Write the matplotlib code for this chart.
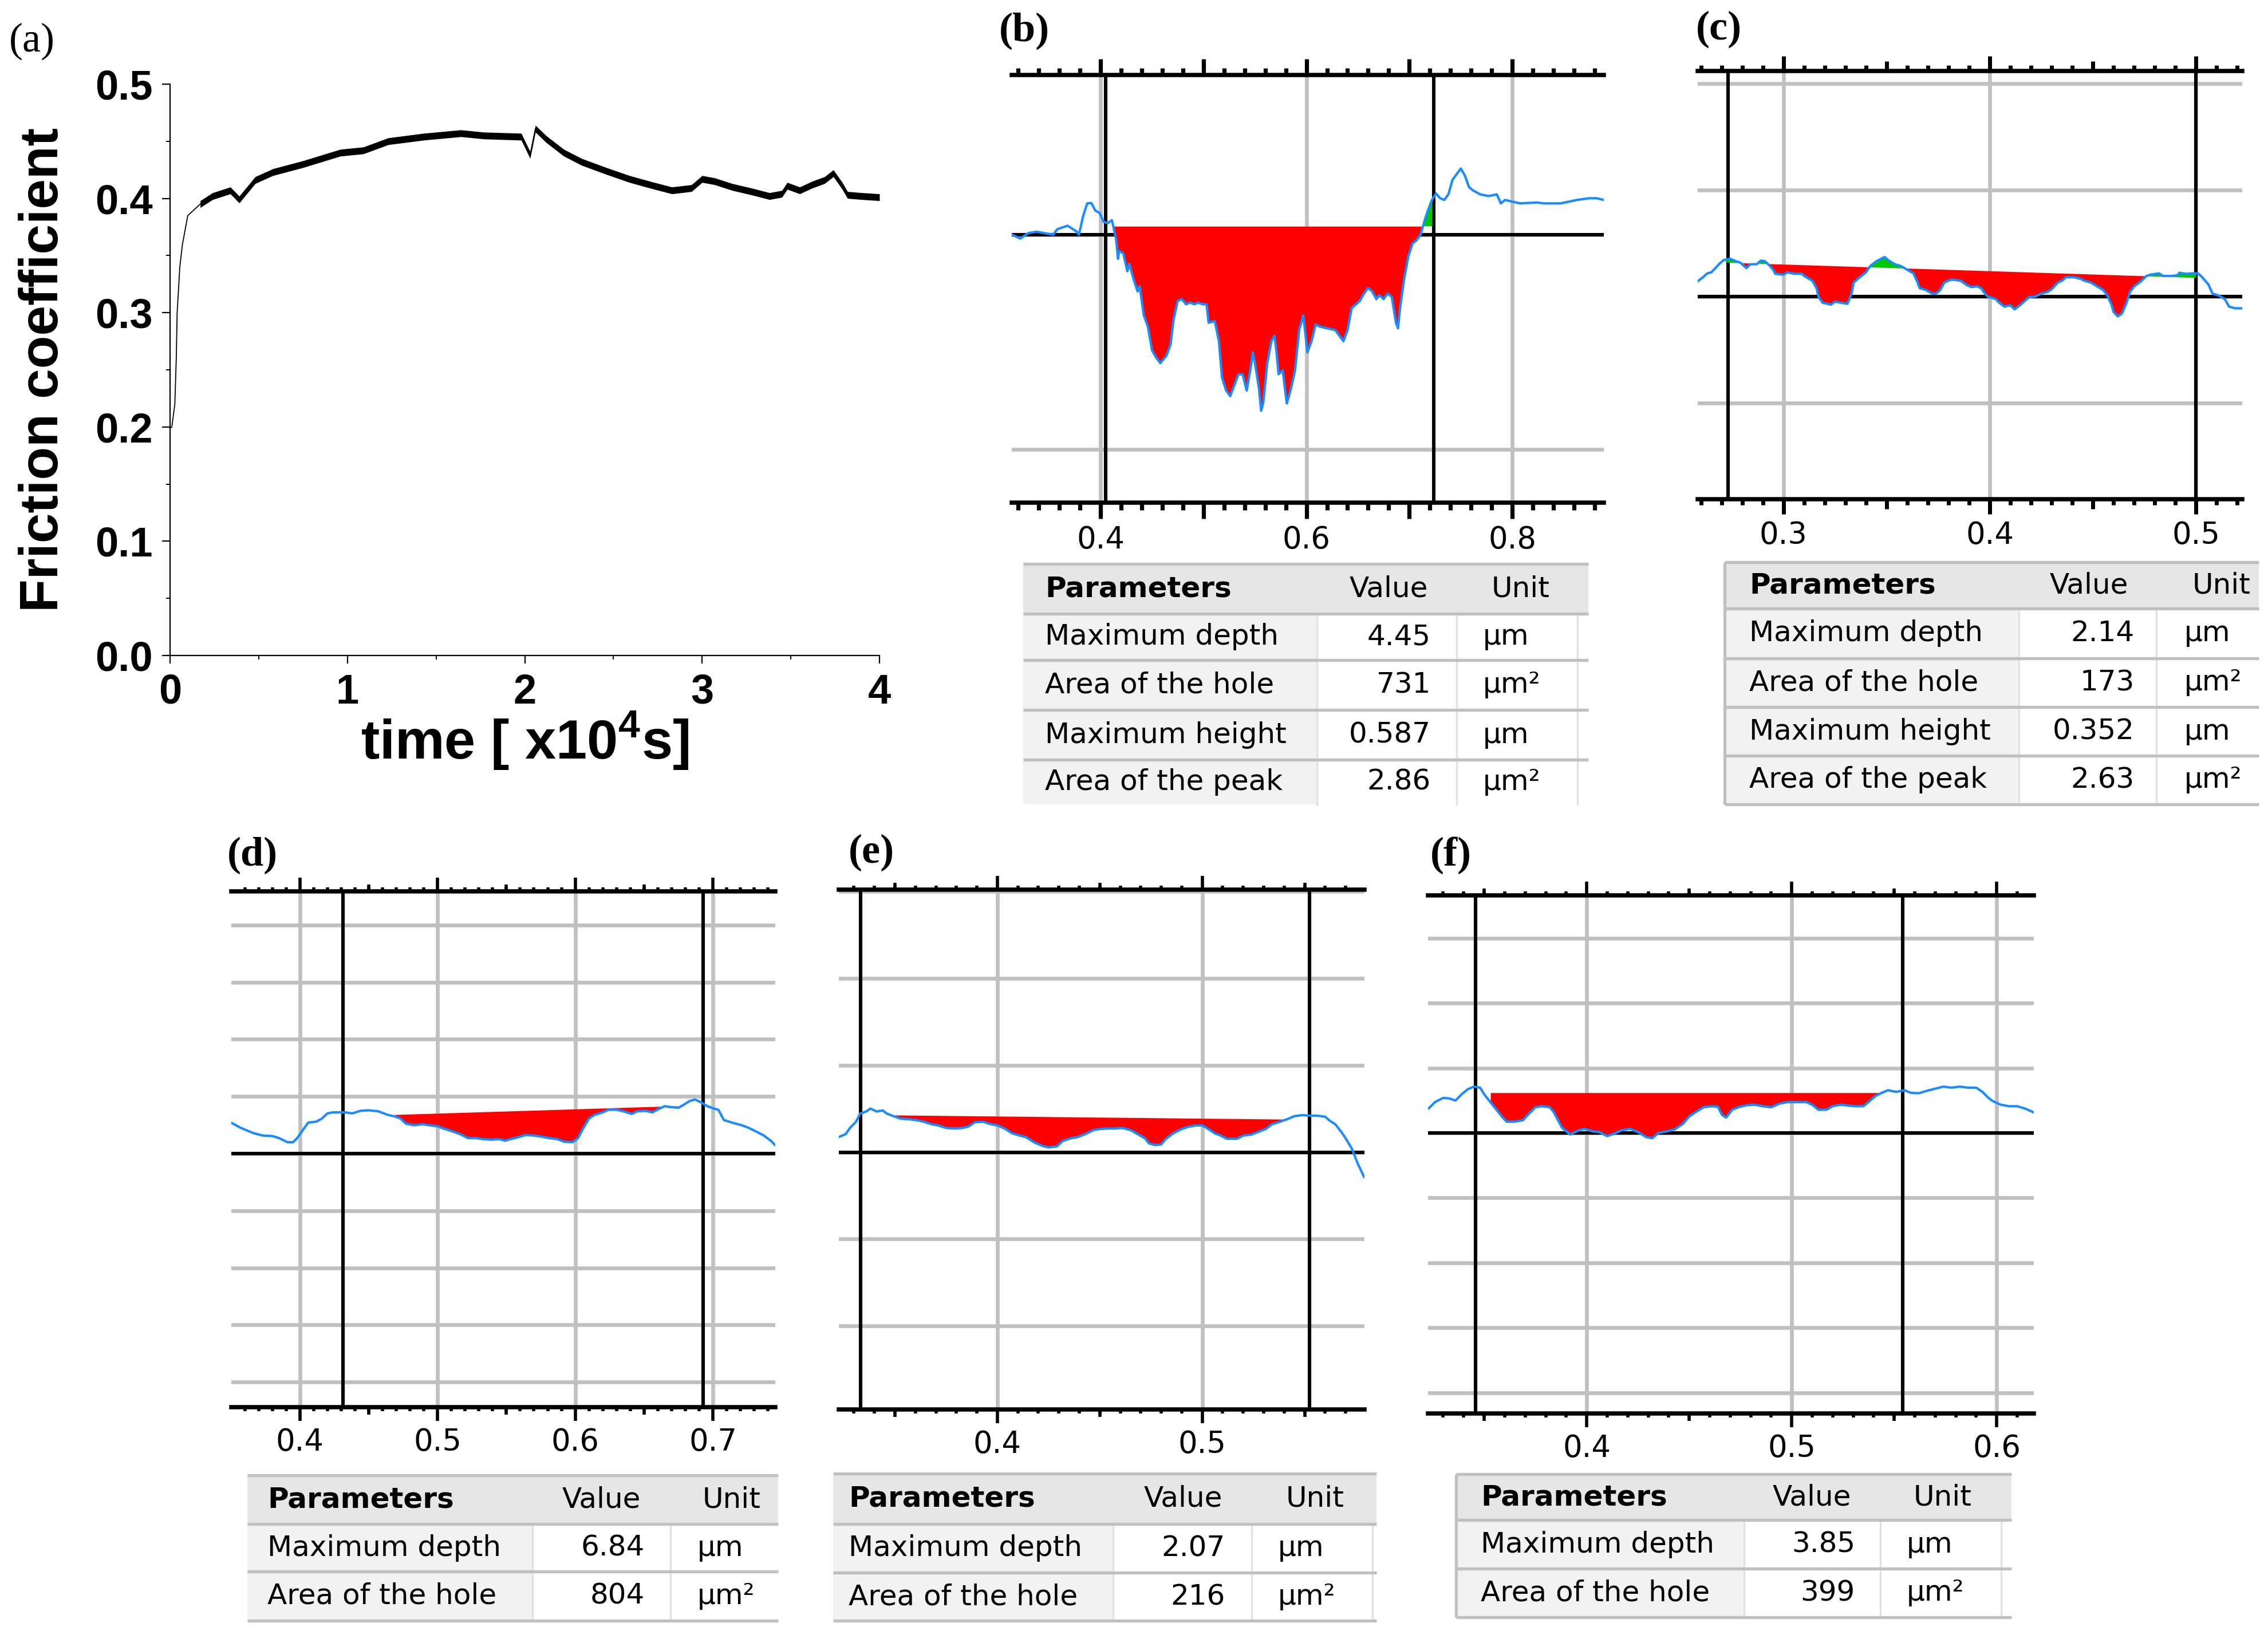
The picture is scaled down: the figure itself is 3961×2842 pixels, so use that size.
import matplotlib
matplotlib.use("Agg")
import matplotlib.pyplot as plt
import numpy as np
from matplotlib.patches import Rectangle
from matplotlib.ticker import FuncFormatter, MultipleLocator, NullFormatter

W, H = 3961, 2842

# ---------------- data ----------------
# (a) friction coefficient, time in 1e4 s
time_1e4s = [0.0, 0.01, 0.027, 0.035, 0.04, 0.055, 0.07, 0.1, 0.17, 0.24, 0.34, 0.39,
             0.48, 0.58, 0.75, 0.96, 1.09, 1.23, 1.43, 1.64, 1.77, 1.98, 2.03, 2.06,
             2.12, 2.22, 2.32, 2.46, 2.59, 2.73, 2.83, 2.94, 3.0, 3.07, 3.17, 3.28,
             3.38, 3.45, 3.48, 3.55, 3.62, 3.69, 3.74, 3.79, 3.82, 3.9, 4.0]
friction = [0.199, 0.20, 0.22, 0.26, 0.30, 0.34, 0.36, 0.385, 0.395, 0.402, 0.407, 0.399,
            0.416, 0.423, 0.430, 0.440, 0.442, 0.450, 0.454, 0.457, 0.455, 0.454, 0.438, 0.461,
            0.452, 0.440, 0.432, 0.424, 0.417, 0.411, 0.407, 0.409, 0.417, 0.415, 0.410, 0.406,
            0.402, 0.404, 0.411, 0.407, 0.412, 0.416, 0.422, 0.411, 0.403, 0.402, 0.401]
friction_noise = 0.003

# profiles: (position, height um)
profile_b = [
    (0.314, 0.00), (0.322, -0.09), (0.330, 0.04), (0.338, 0.07), (0.354, 0.00), (0.358, 0.13),
    (0.368, 0.21), (0.377, 0.07), (0.379, 0.00), (0.383, 0.43), (0.387, 0.73), (0.391, 0.74),
    (0.395, 0.56), (0.399, 0.51), (0.403, 0.30), (0.407, 0.27), (0.411, 0.34), (0.415, -0.09),
    (0.417, -0.56), (0.418, -0.38), (0.422, -0.43), (0.426, -0.85), (0.428, -0.68), (0.432, -1.03),
    (0.436, -1.32), (0.438, -1.20), (0.442, -1.88), (0.446, -2.14), (0.450, -2.69), (0.454, -2.86),
    (0.458, -2.99), (0.464, -2.82), (0.468, -2.56), (0.471, -1.97), (0.475, -1.54), (0.479, -1.50),
    (0.483, -1.62), (0.487, -1.58), (0.491, -1.62), (0.495, -1.58), (0.499, -1.62), (0.503, -1.62),
    (0.505, -2.05), (0.511, -2.01), (0.515, -2.48), (0.518, -3.33), (0.522, -3.63), (0.526, -3.76),
    (0.530, -3.50), (0.534, -3.25), (0.538, -3.25), (0.542, -3.63), (0.546, -3.08), (0.548, -2.74),
    (0.550, -2.99), (0.554, -3.59), (0.556, -4.10), (0.558, -3.93), (0.562, -2.99), (0.566, -2.48),
    (0.569, -2.35), (0.571, -2.74), (0.573, -3.25), (0.577, -3.16), (0.581, -3.93), (0.585, -3.59),
    (0.589, -3.16), (0.593, -2.22), (0.597, -1.88), (0.601, -2.74), (0.605, -2.48), (0.609, -2.09),
    (0.613, -2.14), (0.620, -2.18), (0.628, -2.22), (0.636, -2.48), (0.640, -2.22), (0.644, -1.71),
    (0.652, -1.54), (0.656, -1.37), (0.660, -1.24), (0.664, -1.32), (0.668, -1.50), (0.671, -1.41),
    (0.675, -1.50), (0.679, -1.37), (0.683, -1.45), (0.687, -2.05), (0.689, -2.18), (0.691, -1.71),
    (0.695, -1.03), (0.699, -0.51), (0.703, -0.21), (0.707, -0.13), (0.711, 0.00), (0.715, 0.34),
    (0.718, 0.56), (0.722, 0.81), (0.726, 0.96), (0.730, 0.85), (0.734, 0.81), (0.738, 0.94),
    (0.742, 1.28), (0.746, 1.41), (0.750, 1.54), (0.754, 1.38), (0.758, 1.11), (0.762, 1.03),
    (0.769, 0.94), (0.777, 0.90), (0.785, 0.94), (0.789, 0.73), (0.793, 0.81), (0.800, 0.77),
    (0.808, 0.73), (0.824, 0.75), (0.831, 0.73), (0.847, 0.73), (0.863, 0.81), (0.875, 0.85),
    (0.882, 0.85), (0.889, 0.81)]
profile_c = [
    (0.258, 0.69), (0.261, 0.91), (0.263, 1.09), (0.265, 1.14), (0.267, 1.34), (0.269, 1.55),
    (0.271, 1.72), (0.274, 1.78), (0.277, 1.66), (0.279, 1.60), (0.282, 1.34), (0.284, 1.52),
    (0.287, 1.52), (0.289, 1.69), (0.291, 1.66), (0.293, 1.48), (0.295, 1.26), (0.296, 1.07),
    (0.300, 1.03), (0.302, 1.14), (0.305, 1.07), (0.309, 1.07), (0.310, 0.97), (0.314, 0.74),
    (0.316, 0.40), (0.317, -0.03), (0.319, -0.29), (0.323, -0.38), (0.325, -0.24), (0.328, -0.29),
    (0.331, -0.34), (0.333, 0.14), (0.334, 0.66), (0.337, 0.91), (0.340, 1.14), (0.342, 1.43),
    (0.345, 1.66), (0.349, 1.86), (0.351, 1.69), (0.354, 1.52), (0.357, 1.43), (0.360, 1.26),
    (0.363, 1.09), (0.365, 0.66), (0.366, 0.40), (0.369, 0.31), (0.372, 0.14), (0.374, 0.14),
    (0.376, 0.31), (0.378, 0.66), (0.381, 0.79), (0.383, 0.79), (0.386, 0.74), (0.389, 0.53),
    (0.391, 0.45), (0.394, 0.48), (0.396, 0.38), (0.397, 0.22), (0.399, 0.00), (0.403, -0.12),
    (0.404, -0.24), (0.407, -0.47), (0.410, -0.41), (0.412, -0.60), (0.415, -0.38), (0.419, -0.03),
    (0.422, 0.00), (0.425, 0.14), (0.428, 0.22), (0.430, 0.34), (0.433, 0.66), (0.435, 0.74),
    (0.437, 0.91), (0.441, 0.91), (0.444, 0.83), (0.446, 0.74), (0.449, 0.66), (0.452, 0.48),
    (0.455, 0.31), (0.457, 0.05), (0.459, -0.38), (0.460, -0.72), (0.462, -0.93), (0.464, -0.81),
    (0.466, -0.38), (0.468, 0.22), (0.470, 0.48), (0.473, 0.69), (0.476, 0.97), (0.478, 1.03),
    (0.482, 1.09), (0.484, 0.97), (0.488, 0.97), (0.491, 1.00), (0.492, 1.12), (0.495, 1.07),
    (0.498, 1.09), (0.501, 1.09), (0.503, 0.91), (0.506, 0.57), (0.508, 0.14), (0.511, 0.05),
    (0.514, -0.12), (0.516, -0.47), (0.519, -0.55), (0.522, -0.55)]
profile_d = [
    (0.350, 5.41), (0.357, 4.50), (0.366, 3.60), (0.373, 3.15), (0.380, 3.06), (0.385, 2.70),
    (0.391, 1.98), (0.395, 1.98), (0.398, 2.70), (0.402, 4.05), (0.406, 5.41), (0.412, 5.59),
    (0.416, 6.13), (0.420, 7.03), (0.424, 7.21), (0.433, 7.21), (0.438, 7.03), (0.444, 7.48),
    (0.450, 7.57), (0.457, 7.39), (0.464, 6.76), (0.469, 6.49), (0.473, 6.13), (0.477, 5.23),
    (0.483, 4.95), (0.489, 5.14), (0.494, 4.95), (0.500, 4.77), (0.505, 4.32), (0.511, 3.87),
    (0.517, 3.33), (0.522, 2.70), (0.528, 2.70), (0.533, 2.52), (0.539, 2.43), (0.545, 2.52),
    (0.549, 2.25), (0.553, 2.52), (0.559, 2.88), (0.564, 3.24), (0.570, 3.15), (0.575, 2.97),
    (0.581, 2.70), (0.587, 2.52), (0.592, 2.07), (0.598, 1.98), (0.602, 2.70), (0.606, 4.50),
    (0.610, 6.13), (0.614, 6.76), (0.620, 7.21), (0.624, 7.66), (0.630, 7.66), (0.635, 7.39),
    (0.641, 6.94), (0.645, 7.39), (0.651, 7.48), (0.656, 7.21), (0.661, 7.84), (0.665, 8.29),
    (0.670, 8.11), (0.675, 8.02), (0.679, 8.56), (0.683, 9.19), (0.687, 9.46), (0.691, 9.01),
    (0.696, 8.29), (0.700, 7.93), (0.704, 7.66), (0.708, 5.86), (0.714, 5.41), (0.721, 4.95),
    (0.726, 4.50), (0.732, 3.78), (0.737, 3.15), (0.742, 2.25), (0.745, 1.53)]
profile_e = [
    (0.323, 0.89), (0.326, 1.04), (0.328, 1.39), (0.331, 1.75), (0.333, 2.22), (0.336, 2.34),
    (0.338, 2.51), (0.341, 2.34), (0.344, 2.40), (0.346, 2.22), (0.350, 2.04), (0.353, 1.92),
    (0.357, 1.89), (0.361, 1.83), (0.364, 1.75), (0.368, 1.60), (0.371, 1.54), (0.375, 1.39),
    (0.379, 1.36), (0.383, 1.39), (0.386, 1.48), (0.389, 1.72), (0.393, 1.75), (0.396, 1.63),
    (0.400, 1.54), (0.404, 1.33), (0.407, 1.09), (0.411, 0.95), (0.414, 0.86), (0.418, 0.56),
    (0.422, 0.36), (0.425, 0.27), (0.429, 0.33), (0.432, 0.65), (0.436, 0.80), (0.439, 0.86),
    (0.443, 1.04), (0.447, 1.27), (0.450, 1.33), (0.454, 1.36), (0.457, 1.36), (0.461, 1.39),
    (0.465, 1.27), (0.468, 1.07), (0.472, 0.80), (0.474, 0.50), (0.477, 0.41), (0.480, 0.44),
    (0.482, 0.74), (0.486, 1.09), (0.490, 1.33), (0.493, 1.45), (0.497, 1.54), (0.500, 1.54),
    (0.503, 1.33), (0.506, 1.09), (0.509, 0.95), (0.512, 0.77), (0.517, 0.77), (0.520, 0.95),
    (0.524, 1.01), (0.527, 1.15), (0.531, 1.33), (0.534, 1.60), (0.538, 1.75), (0.542, 1.92),
    (0.545, 2.07), (0.549, 2.13), (0.552, 2.10), (0.556, 2.10), (0.560, 2.04), (0.562, 1.83),
    (0.565, 1.60), (0.568, 1.15), (0.570, 0.80), (0.573, 0.21), (0.576, -0.68), (0.579, -1.42)]
profile_f = [
    (0.323, 1.90), (0.326, 2.38), (0.330, 2.70), (0.333, 2.66), (0.336, 2.50), (0.339, 2.98),
    (0.342, 3.37), (0.345, 3.57), (0.348, 3.49), (0.350, 2.98), (0.353, 2.38), (0.356, 1.79),
    (0.359, 1.19), (0.361, 0.87), (0.365, 0.87), (0.369, 0.99), (0.372, 1.51), (0.375, 1.98),
    (0.378, 2.06), (0.382, 1.98), (0.384, 1.59), (0.386, 0.99), (0.388, 0.40), (0.392, -0.12),
    (0.396, 0.20), (0.399, 0.32), (0.403, 0.12), (0.406, 0.08), (0.410, -0.24), (0.413, -0.08),
    (0.417, 0.20), (0.421, 0.32), (0.425, 0.08), (0.429, -0.32), (0.432, -0.40), (0.435, 0.00),
    (0.439, 0.12), (0.443, 0.28), (0.447, 0.71), (0.450, 1.27), (0.453, 1.59), (0.457, 1.98),
    (0.461, 2.06), (0.464, 2.02), (0.466, 1.39), (0.468, 1.19), (0.471, 1.79), (0.474, 1.98),
    (0.478, 2.14), (0.482, 2.18), (0.486, 2.06), (0.490, 1.98), (0.494, 2.26), (0.498, 2.38),
    (0.502, 2.38), (0.507, 2.38), (0.510, 2.18), (0.513, 1.79), (0.517, 1.79), (0.520, 2.06),
    (0.524, 2.18), (0.528, 2.10), (0.531, 2.06), (0.535, 2.06), (0.538, 2.46), (0.541, 2.86),
    (0.544, 3.10), (0.547, 3.29), (0.551, 3.17), (0.555, 3.29), (0.558, 3.10), (0.562, 3.06),
    (0.566, 3.25), (0.570, 3.41), (0.574, 3.57), (0.578, 3.49), (0.582, 3.57), (0.586, 3.49),
    (0.590, 3.49), (0.593, 3.17), (0.596, 2.70), (0.598, 2.46), (0.602, 2.18), (0.606, 2.06),
    (0.610, 2.06), (0.614, 1.87), (0.618, 1.59)]

# vertical cursors and reference level (start/end) of each profile
cursors_b, level_b_x, level_b_z = [0.4047, 0.724], [0.412, 0.7224], [0.197, 0.197]
cursors_c, level_c_x, level_c_z = [0.273, 0.5], [0.273, 0.5], [1.59, 0.88]
cursors_d, level_d_x, level_d_z = [0.4313, 0.6927], [0.4691, 0.6745], [6.76, 8.29]
cursors_e, level_e_x, level_e_z = [0.3333, 0.5523], [0.3498, 0.5416], [2.13, 1.89]
cursors_f, level_f_x, level_f_z = [0.3458, 0.5542], [0.3531, 0.5442], [3.10, 3.10]

xlabels_b = [0.4, 0.6, 0.8]
xlabels_c = [0.3, 0.4, 0.5]
xlabels_d = [0.4, 0.5, 0.6, 0.7]
xlabels_e = [0.4, 0.5]
xlabels_f = [0.4, 0.5, 0.6]

params_long = ["Maximum depth", "Area of the hole", "Maximum height", "Area of the peak"]
units_long = ["µm", "µm²", "µm", "µm²"]
params_short = ["Maximum depth", "Area of the hole"]
units_short = ["µm", "µm²"]
values_b = ["4.45", "731", "0.587", "2.86"]
values_c = ["2.14", "173", "0.352", "2.63"]
values_d = ["6.84", "804"]
values_e = ["2.07", "216"]
values_f = ["3.85", "399"]

BLUE = "#1a8cff"
GRID = "#c0c0c0"
TICK_FS = 38
TABLE_FS = 36


def px_rect(left, top, right, bottom):
    return [left / W, 1 - bottom / H, (right - left) / W, (bottom - top) / H]


fig = plt.figure(figsize=(W / 100, H / 100), dpi=100)
plt.rcParams["mathtext.fontset"] = "custom"
plt.rcParams["mathtext.rm"] = "Liberation Sans"
plt.rcParams["mathtext.bf"] = "Liberation Sans:bold"

# ---------------- (a) ----------------
ax = fig.add_axes(px_rect(297, 147, 1536, 1145))
t = np.array(time_1e4s)
mu = np.array(friction)
ax.plot(t, mu, color="black", lw=1.3)
ax.fill_between(t, mu - friction_noise, mu + friction_noise, where=t >= 0.15,
                color="black", lw=0)
ax.set_xlim(0, 4)
ax.set_ylim(0, 0.5)
ax.spines["top"].set_visible(False)
ax.spines["right"].set_visible(False)
for s in ("left", "bottom"):
    ax.spines[s].set_linewidth(1.6)
ax.xaxis.set_major_locator(MultipleLocator(1))
ax.xaxis.set_minor_locator(MultipleLocator(0.5))
ax.yaxis.set_major_locator(MultipleLocator(0.1))
ax.yaxis.set_minor_locator(MultipleLocator(0.05))
ax.yaxis.set_major_formatter(FuncFormatter(lambda v, p: f"{v:.1f}"))
ax.tick_params(which="major", length=10, width=1.6, direction="out")
ax.tick_params(which="minor", length=5, width=1.4, direction="out")
ax.tick_params(axis="x", pad=12)
ax.tick_params(axis="y", pad=12)
for lab in ax.get_xticklabels() + ax.get_yticklabels():
    lab.set_fontfamily("Liberation Sans")
    lab.set_fontweight("bold")
    lab.set_fontsize(52)
ax.set_ylabel("Friction coefficient", fontfamily="Liberation Sans", fontweight="bold",
              fontsize=68)
ax.yaxis.set_label_coords(-0.142, 0.5)
ax.set_xlabel(r"time [ x10$^{\mathbf{4}}$s]", fontfamily="Liberation Sans",
              fontweight="bold", fontsize=70)
ax.xaxis.set_label_coords(0.5, -0.095)


# ---------------- (b)-(f) profiles ----------------
def profile_panel(rect, profile, xlim, zlim, cursors, level_x, level_z, xlabels,
                  long_step, mid_step, minor_step, grid_step, long_len, mid_len, minor_len,
                  tick_w):
    ax = fig.add_axes(rect)
    px, pz = np.array(profile).T
    ax.set_xlim(*xlim)
    ax.set_ylim(*zlim)

    # grid
    for xv in xlabels:
        ax.axvline(xv, color=GRID, lw=4.8, zorder=1)
    zg = np.arange(np.ceil(zlim[0] / grid_step) * grid_step, zlim[1], grid_step)
    for zv in zg:
        ax.axhline(zv, color=GRID, lw=4.8, zorder=1)

    # cursors
    ax.axhline(0, color="black", lw=4.4, zorder=2)
    for xv in cursors:
        ax.axvline(xv, color="black", lw=4.4, zorder=2)

    # hole / peak areas against the reference level
    xs = np.union1d(px, level_x)
    zs = np.interp(xs, px, pz)
    lev = np.interp(xs, level_x, level_z)
    inside = (xs >= level_x[0]) & (xs <= level_x[1])
    ax.fill_between(xs, zs, lev, where=inside & (zs <= lev), interpolate=True,
                    color="#ff0000", lw=0, zorder=3)
    ax.fill_between(xs, zs, lev, where=inside & (zs >= lev), interpolate=True,
                    color="#00c800", lw=0, zorder=3)
    ax.plot(px, pz, color=BLUE, lw=3.0, zorder=4)

    for s in ("left", "right"):
        ax.spines[s].set_visible(False)
    for s in ("top", "bottom"):
        ax.spines[s].set_linewidth(5.4)
        ax.spines[s].set_zorder(5)
    ax.tick_params(axis="y", left=False, labelleft=False)

    ax.xaxis.set_major_locator(MultipleLocator(long_step))
    ax.xaxis.set_minor_locator(MultipleLocator(minor_step))
    ax.xaxis.set_major_formatter(FuncFormatter(
        lambda v, p: f"{v:.1f}" if min(abs(v - l) for l in xlabels) < 1e-6 else ""))
    ax.tick_params(axis="x", which="both", top=True, bottom=True, direction="out",
                   width=tick_w, labelsize=TICK_FS)
    ax.tick_params(axis="x", which="major", length=long_len, pad=8)
    ax.tick_params(axis="x", which="minor", length=minor_len)

    if mid_step:
        lo = np.ceil(xlim[0] / mid_step) * mid_step
        mids = [m for m in np.arange(lo, xlim[1], mid_step)
                if abs(m / long_step - round(m / long_step)) > 1e-6]
        for loc in ("top", "bottom"):
            sec = ax.secondary_xaxis(loc)
            sec.set_xticks(mids)
            sec.xaxis.set_major_formatter(NullFormatter())
            sec.tick_params(axis="x", length=mid_len, width=tick_w, direction="out")
            sec.spines[loc].set_visible(False)
    return ax


profile_panel(px_rect(1767, 131, 2801, 878), profile_b, (0.3137, 0.889), (-6.24, 3.72),
              cursors_b, level_b_x, level_b_z, xlabels_b, 0.1, None, 0.02, 5, 20, 0, 9, 5.2)
profile_panel(px_rect(2965, 124, 3916, 872), profile_c, (0.2584, 0.5224), (-9.52, 10.6),
              cursors_c, level_c_x, level_c_z, xlabels_c, 0.1, 0.05, 0.01, 5, 19, 12, 7, 5.0)
profile_panel(px_rect(404, 1557, 1354, 2458), profile_d, (0.3502, 0.7453), (-44.4, 45.9),
              cursors_d, level_d_x, level_d_z, xlabels_d, 0.1, 0.05, 0.01, 10, 17, 9, 5, 4.0)
profile_panel(px_rect(1465, 1554, 2383, 2462), profile_e, (0.3226, 0.5792), (-14.8, 15.1),
              cursors_e, level_e_x, level_e_z, xlabels_e, 0.1, 0.05, 0.01, 5, 17, 9, 5, 4.0)
profile_panel(px_rect(2494, 1564, 3552, 2469), profile_f, (0.3226, 0.6181), (-21.6, 18.3),
              cursors_f, level_f_x, level_f_z, xlabels_f, 0.1, 0.05, 0.01, 5, 17, 9, 5, 4.0)

# ---------------- tables ----------------
tax = fig.add_axes([0, 0, 1, 1])
tax.set_xlim(0, W)
tax.set_ylim(H, 0)
tax.axis("off")


def draw_table(names, values, units, g):
    left, right = g["left"], g["right"]
    edges = [g["top"]] + g["rows"]
    tax.add_patch(Rectangle((left, edges[0]), right - left, edges[1] - edges[0],
                            color="#e6e6e6", lw=0))
    hc = (edges[0] + edges[1]) / 2
    tax.text(g["tx_param"], hc, "Parameters", ha="left", va="center",
             fontsize=TABLE_FS, fontweight="bold")
    tax.text(g["hx_value"], hc, "Value", ha="center", va="center", fontsize=TABLE_FS)
    tax.text(g["hx_unit"], hc, "Unit", ha="center", va="center", fontsize=TABLE_FS)
    for i, (n, v, u) in enumerate(zip(names, values, units)):
        y0, y1 = edges[i + 1], edges[i + 2]
        tax.add_patch(Rectangle((left, y0), g["cols"][0] - left, y1 - y0,
                                color="#f2f2f2", lw=0))
        yc = (y0 + y1) / 2
        tax.text(g["tx_param"], yc, n, ha="left", va="center", fontsize=TABLE_FS)
        tax.text(g["tx_value"], yc, v, ha="right", va="center", fontsize=TABLE_FS)
        tax.text(g["tx_unit"], yc, u, ha="left", va="center", fontsize=TABLE_FS)
    for xv in g["cols"]:
        tax.plot([xv, xv], [edges[1], edges[-1]], color="#e2e2e2", lw=2.5)
    lines = edges if g["bottom_line"] else edges[:-1]
    for yv in lines:
        tax.plot([left, right], [yv, yv], color=GRID, lw=3.8, solid_capstyle="butt")
    if g["left_border"]:
        tax.plot([left, left], [edges[0], edges[-1]], color=GRID, lw=3.8,
                 solid_capstyle="butt")


draw_table(params_long, values_b, units_long,
           dict(left=1787, right=2774, top=985, rows=[1072, 1153, 1240, 1327, 1405],
                cols=[2300, 2544, 2755], tx_param=1825, tx_value=2499, tx_unit=2590,
                hx_value=2425, hx_unit=2656, bottom_line=False, left_border=False))
draw_table(params_long, values_c, units_long,
           dict(left=3012, right=3945, top=982, rows=[1063, 1150, 1235, 1320, 1405],
                cols=[3526, 3766], tx_param=3055, tx_value=3728, tx_unit=3815,
                hx_value=3648, hx_unit=3880, bottom_line=True, left_border=True))
draw_table(params_short, values_d, units_short,
           dict(left=432, right=1359, top=2577, rows=[2662, 2745, 2831],
                cols=[930, 1171], tx_param=467, tx_value=1126, tx_unit=1218,
                hx_value=1050, hx_unit=1278, bottom_line=True, left_border=False))
draw_table(params_short, values_e, units_short,
           dict(left=1455, right=2404, top=2574, rows=[2662, 2747, 2831],
                cols=[1944, 2186, 2397], tx_param=1482, tx_value=2140, tx_unit=2232,
                hx_value=2066, hx_unit=2297, bottom_line=True, left_border=False))
draw_table(params_short, values_f, units_short,
           dict(left=2543, right=3513, top=2575, rows=[2655, 2740, 2825],
                cols=[3046, 3284, 3495], tx_param=2586, tx_value=3240, tx_unit=3330,
                hx_value=3164, hx_unit=3393, bottom_line=True, left_border=True))

# ---------------- panel letters ----------------
for letter, x, y, weight in [("(a)", 16, 72, "normal"), ("(b)", 1745, 54, "bold"),
                             ("(c)", 2962, 51, "bold"), ("(d)", 397, 1494, "bold"),
                             ("(e)", 1482, 1489, "bold"), ("(f)", 2498, 1494, "bold")]:
    fig.text(x / W, 1 - y / H, letter, ha="left", va="center", fontsize=52,
             fontfamily="Liberation Serif", fontweight=weight)

fig.savefig("out.png", dpi=100)
